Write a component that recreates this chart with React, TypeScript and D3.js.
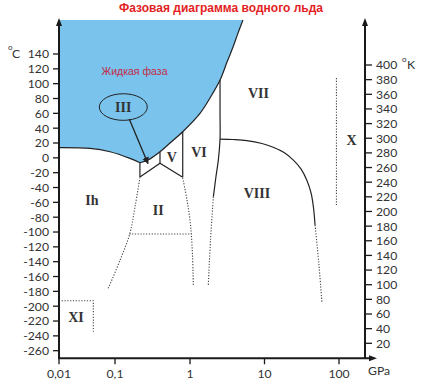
import React from 'react';
import * as d3 from 'd3';

// ---------- data ----------
const TITLE = 'Фазовая диаграмма водного льда';
const LIQUID_LABEL = 'Жидкая фаза';

const celsiusTicks = [140, 120, 100, 80, 60, 40, 20, 0, -20, -40, -60, -80, -100, -120, -140, -160, -180, -200, -220, -240, -260];
const kelvinTicks = [400, 380, 360, 340, 320, 300, 280, 260, 240, 220, 200, 180, 160, 140, 120, 100, 80, 60, 40, 20];
const pressureTicks = [0.01, 0.1, 1, 10, 100];
const pressureTickLabels = ['0,01', '0,1', '1', '10', '100'];

const T_TOP = 186; // upper edge of the diagram, °C
const P_MIN = 0.01;

// [GPa, °C]
const ihMelting: [number, number][] = [[0.01, 13.9], [0.0358, 12.8], [0.0815, 8.2], [0.158, -0.7], [0.215, -6.6]];
const liquidBoundary: [number, number][] = [
  [5.14, 185.8], [4.41, 168.2], [3.78, 149.4], [3.14, 129.1], [2.53, 104.9], [1.855, 80.6],
  [1.362, 60.0], [0.8, 35.2], [0.541, 20.0], [0.398, 8.2], [0.275, -3.0], [0.215, -6.6],
];
const solidStraight: [number, number][][] = [
  [[0.215, -6.6], [0.215, -25.9]],
  [[0.398, 8.2], [0.398, -7.4]],
  [[0.215, -25.9], [0.398, -7.4], [0.8, -26.3]],
  [[0.8, 35.2], [0.8, -26.3]],
];
const viViiBoundary: [number, number][] = [[2.53, 104.9], [2.53, 60], [2.53, 25.3], [2.4, -3.0], [2.23, -25.5], [2.06, -52.4]];
const viiViiiBoundary: [number, number][] = [
  [2.53, 25.3], [3.78, 24.7], [5.77, 23.3], [9.25, 19.3], [13.1, 14.2], [18.3, 7.1], [24.4, -3.0],
  [31.0, -15.1], [36.9, -29.9], [42.2, -47.5], [45.3, -65.9], [47.7, -90.6],
];
const dottedCurves: [number, number][][] = [
  [[0.215, -26.3], [0.185, -65.9], [0.158, -101.8], [0.117, -137.8], [0.0758, -175.9]],
  [[0.8, -27.2], [0.912, -56.9], [1.016, -90.6], [1.08, -131], [1.107, -171.5]],
  [[2.06, -52.4], [1.885, -110.8], [1.76, -171.5]],
  [[47.7, -90.6], [53.4, -140.5], [58.9, -194]],
];
const dottedStraight: [number, number][][] = [
  [[0.155, -102.7], [1.054, -102.7]],
  [[92.4, 107.6], [92.4, -63.6]],
  [[0.01117, -192.6], [0.041, -192.6], [0.041, -234.4]],
];
const phaseLabels = [
  { text: 'Ih', p: 0.0388, t: -56.9 },
  { text: 'II', p: 0.378, t: -70.5 },
  { text: 'V', p: 0.57, t: 0.7 },
  { text: 'VI', p: 1.32, t: 7.8 },
  { text: 'VII', p: 8.3, t: 86.7 },
  { text: 'VIII', p: 7.93, t: -48.1 },
  { text: 'X', p: 147, t: 24 },
  { text: 'XI', p: 0.0201, t: -215.3 },
  { text: 'III', p: 0.129, t: 68.5 },
];
const liquidLabelPos = { p: 0.182, t: 117 };
const ellipseCenter = { p: 0.129, t: 68.5 };
const arrowIII: [number, number][] = [[0.155, 52.3], [0.275, -7.7]];

// ---------- scales ----------
const xLin = d3.scaleLinear().domain([-2, -1, 0, 1, 2]).range([59, 115, 190, 264.5, 339]);
const x = (p: number) => xLin(Math.log10(p));
const y = d3.scaleLinear().domain([-260, 140]).range([350.7, 54]);
const yK = d3.scaleLinear().domain([20, 400]).range([343.3, 65]);

const X0 = x(P_MIN);
const XR = 365;
const YB = 358.3;
const YTOP = 18;

const curve = d3.line<[number, number]>().x(d => x(d[0])).y(d => y(d[1])).curve(d3.curveCatmullRom.alpha(0.5));
const straight = d3.line<[number, number]>().x(d => x(d[0])).y(d => y(d[1]));

const liquidPath =
  `M${x(P_MIN)},${y(T_TOP)}` +
  (curve(liquidBoundary) as string).replace(/^M/, 'L') +
  (curve([...ihMelting].reverse()) as string).replace(/^M/, 'L') +
  'Z';

const INK = '#222';
const AXIS = '#1a1a1a';
const TXT = '#333';
const SANS = 'Lato, "Open Sans", "Liberation Sans", Arial, sans-serif';
const SERIF = '"Liberation Serif", "Times New Roman", serif';
const FS = 12.2;

export default function App() {
  return (
    <svg width={424} height={385} style={{ position: 'absolute', left: 0, top: 0, background: '#fff' }}>
      <defs>
        <marker id="ah" viewBox="0 0 10 10" refX="9" refY="5" markerWidth="7" markerHeight="7" markerUnits="userSpaceOnUse" orient="auto">
          <path d="M0,0 L10,5 L0,10 Z" fill={INK} />
        </marker>
      </defs>
      <rect width={424} height={385} fill="#fff" />
      <text x={221} y={12} textAnchor="middle" fill="#e31e24" fontFamily='"Liberation Sans", Arial, sans-serif' fontWeight="bold" fontSize={12}>{TITLE}</text>

      {/* liquid */}
      <path d={liquidPath} fill="#79c3ec" stroke="none" />
      <path d={curve(liquidBoundary) as string} fill="none" stroke={INK} strokeWidth={1.2} />
      <path d={curve(ihMelting) as string} fill="none" stroke={INK} strokeWidth={1.2} />
      <text x={x(liquidLabelPos.p)} y={y(liquidLabelPos.t)} textAnchor="middle" dominantBaseline="central" fill="#c42a48" fontFamily='"Liberation Sans", Arial, sans-serif' fontSize={10.5}>{LIQUID_LABEL}</text>

      {/* solid boundaries */}
      {solidStraight.map((s, i) => <path key={'s' + i} d={straight(s) as string} fill="none" stroke={INK} strokeWidth={1.2} />)}
      <path d={curve(viViiBoundary) as string} fill="none" stroke={INK} strokeWidth={1.2} />
      <path d={curve(viiViiiBoundary) as string} fill="none" stroke={INK} strokeWidth={1.2} />

      {/* dotted boundaries */}
      {dottedCurves.map((s, i) => <path key={'d' + i} d={curve(s) as string} fill="none" stroke="#444" strokeWidth={1.1} strokeDasharray="1.2,1.6" />)}
      {dottedStraight.map((s, i) => <path key={'ds' + i} d={straight(s) as string} fill="none" stroke="#444" strokeWidth={1.1} strokeDasharray="1.2,1.6" />)}

      {/* III ellipse and arrow */}
      <ellipse cx={x(ellipseCenter.p)} cy={y(ellipseCenter.t)} rx={24} ry={13.3} fill="none" stroke={INK} strokeWidth={1} />
      <path d={straight(arrowIII) as string} stroke={INK} strokeWidth={1.3} fill="none" markerEnd="url(#ah)" />

      {phaseLabels.map(l => (
        <text key={l.text} x={x(l.p)} y={y(l.t)} textAnchor="middle" dominantBaseline="central" fill={TXT} fontFamily={SERIF} fontWeight="bold" fontSize={14}>{l.text}</text>
      ))}

      {/* axes */}
      <line x1={X0} y1={YB} x2={X0} y2={YTOP + 6} stroke={AXIS} strokeWidth={2} />
      <path d={`M${X0},${YTOP} L${X0 - 3},${YTOP + 8} L${X0 + 3},${YTOP + 8} Z`} fill={AXIS} />
      <line x1={XR} y1={YB} x2={XR} y2={YTOP + 6} stroke={AXIS} strokeWidth={2} />
      <path d={`M${XR},${YTOP} L${XR - 3},${YTOP + 8} L${XR + 3},${YTOP + 8} Z`} fill={AXIS} />
      <line x1={X0 - 1} y1={YB} x2={371} y2={YB} stroke={AXIS} strokeWidth={2} />
      <path d={`M377,${YB} L369,${YB - 3} L369,${YB + 3} Z`} fill={AXIS} />

      {celsiusTicks.map(t => (
        <g key={'c' + t}>
          <line x1={X0 - 6} x2={X0} y1={y(t)} y2={y(t)} stroke={AXIS} strokeWidth={1.3} />
          <text x={49} y={y(t)} dy="0.36em" textAnchor="end" fill={TXT} fontFamily={SANS} fontSize={FS}>{t}</text>
        </g>
      ))}
      <text x={8} y={50} fill={TXT} fontFamily={SANS} fontSize={8}>o</text>
      <text x={12} y={y(140)} dy="0.36em" fill={TXT} fontFamily={SANS} fontSize={FS}>C</text>

      {kelvinTicks.map(k => (
        <g key={'k' + k}>
          <line x1={XR} x2={XR + 7} y1={yK(k)} y2={yK(k)} stroke={AXIS} strokeWidth={1.3} />
          <text x={376} y={yK(k)} dy="0.36em" fill={TXT} fontFamily={SANS} fontSize={FS}>{k}</text>
        </g>
      ))}
      <text x={402} y={62} fill={TXT} fontFamily={SANS} fontSize={8}>o</text>
      <text x={407} y={yK(400)} dy="0.36em" fill={TXT} fontFamily={SANS} fontSize={FS}>K</text>

      {pressureTicks.map((p, i) => (
        <g key={'p' + p}>
          <line x1={x(p)} x2={x(p)} y1={YB} y2={YB + 6} stroke={AXIS} strokeWidth={1.3} />
          <text x={x(p)} y={378} textAnchor="middle" fill={TXT} fontFamily={SANS} fontSize={FS}>{pressureTickLabels[i]}</text>
        </g>
      ))}
      <text x={368} y={375} fill={TXT} fontFamily={SANS} fontSize={FS}>GPa</text>
    </svg>
  );
}
